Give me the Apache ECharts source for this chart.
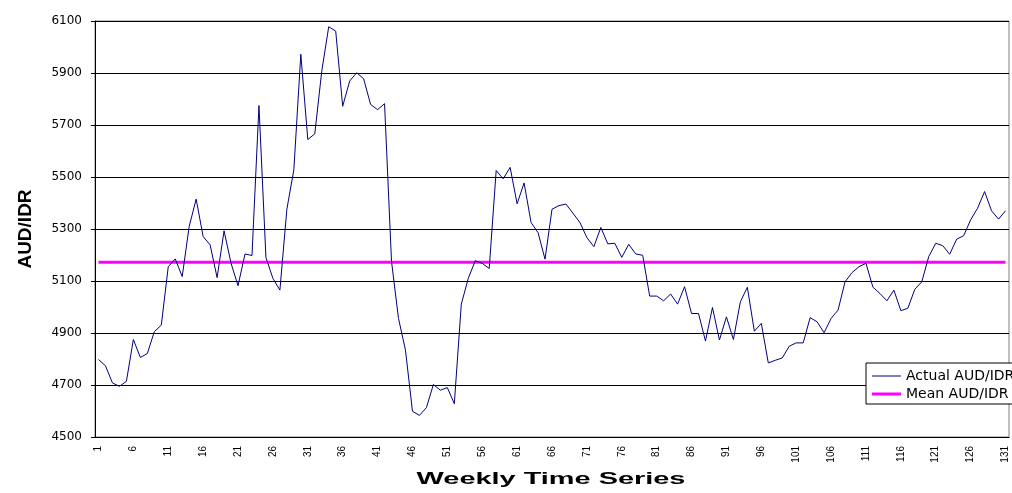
<!DOCTYPE html>
<html>
<head>
<meta charset="utf-8">
<script src="https://cdn.jsdelivr.net/npm/echarts@6/dist/echarts.min.js"></script>
<style>
  html, body { margin: 0; padding: 0; background: #fff; }
  #chart { width: 1012px; height: 493px; }
</style>
</head>
<body>
<div id="chart"></div>
<script>
// Weekly AUD/IDR exchange rate, weeks 1..131
const actualRate = [
  4798, 4774, 4708, 4695, 4714, 4875, 4806, 4821, 4905, 4930,
  5155, 5185, 5117, 5310, 5415, 5271, 5239, 5113, 5293, 5168,
  5082, 5204, 5198, 5775, 5190, 5110, 5065, 5376, 5528, 5972,
  5644, 5666, 5907, 6078, 6061, 5772, 5869, 5901, 5878, 5779,
  5759, 5782, 5175, 4956, 4834, 4599, 4583, 4613, 4702, 4680,
  4690, 4628, 5011, 5110, 5178, 5168, 5148, 5525, 5493, 5537,
  5397, 5477, 5325, 5286, 5184, 5376, 5390, 5396, 5361, 5325,
  5267, 5232, 5306, 5243, 5245, 5191, 5241, 5204, 5199, 5042,
  5042, 5024, 5050, 5011, 5078, 4975, 4975, 4869, 4998, 4873,
  4962, 4875, 5020, 5076, 4907, 4937, 4785, 4795, 4804, 4849,
  4862, 4862, 4959, 4943, 4901, 4956, 4988, 5097, 5132, 5155,
  5168, 5076, 5052, 5024, 5065, 4986, 4995, 5068, 5097, 5194,
  5245, 5236, 5203, 5261, 5274, 5335, 5380, 5444, 5370, 5338,
  5370
];

// Mean of the whole series
const meanRate = 5172;

// Week numbers used as category labels
const weeks = actualRate.map((_, i) => String(i + 1));

// Value axis range and step
const yMin = 4500;
const yMax = 6100;
const yStep = 200;

const chart = echarts.init(document.getElementById('chart'), null, { renderer: 'canvas' });

chart.setOption({
  animation: false,
  backgroundColor: '#ffffff',
  grid: {
    left: 95, right: 3, top: 21, bottom: 56,
    show: true, borderColor: '#808080', borderWidth: 1,
    containLabel: false
  },
  legend: {
    orient: 'vertical',
    left: 866, top: 363,
    backgroundColor: '#ffffff',
    borderColor: '#000000', borderWidth: 1, borderRadius: 0,
    padding: [6, 40, 3, 6],
    itemWidth: 29, itemHeight: 14, itemGap: 4,
    symbolKeepAspect: true,
    textStyle: { fontFamily: 'DejaVu Sans', fontSize: 14, color: '#000' },
    data: [
      // flat strokes as legend keys: thin for the rate, thick for the mean
      { name: 'Actual AUD/IDR', icon: 'path://M0,0H29V1H0Z' },
      { name: 'Mean AUD/IDR', icon: 'path://M0,0H29V3H0Z' }
    ]
  },
  xAxis: {
    type: 'category',
    data: weeks,
    boundaryGap: true,
    axisLine: { lineStyle: { color: '#000', width: 1 } },
    axisTick: { interval: 0, length: 4, lineStyle: { color: '#000' } },
    axisLabel: {
      interval: 4, rotate: 90, margin: 9,
      fontFamily: 'Liberation Sans', fontSize: 10, color: '#000'
    },
    splitLine: { show: false }
  },
  yAxis: {
    type: 'value',
    min: yMin, max: yMax, interval: yStep,
    name: 'AUD/IDR',
    nameLocation: 'middle',
    nameRotate: 90,
    nameGap: 60,
    nameTextStyle: { fontFamily: 'Liberation Sans', fontWeight: 'bold', fontSize: 19, color: '#000' },
    axisLine: { show: true, lineStyle: { color: '#000', width: 1 } },
    axisTick: { show: true, length: 4, lineStyle: { color: '#000' } },
    axisLabel: {
      margin: 13, fontFamily: 'DejaVu Sans', fontSize: 12, color: '#000',
      formatter: (v) => String(v)
    },
    splitLine: { show: true, lineStyle: { color: '#000', width: 1 } }
  },
  graphic: [{
    type: 'text',
    x: 551, y: 479.5,
    scaleX: 1.7,
    style: {
      text: 'Weekly Time Series',
      font: 'bold 17px "Liberation Sans"',
      fill: '#000',
      textAlign: 'center',
      textVerticalAlign: 'middle'
    }
  }],
  series: [
    {
      name: 'Actual AUD/IDR',
      type: 'line',
      data: actualRate,
      symbol: 'none',
      lineStyle: { color: '#000080', width: 1 },
      itemStyle: { color: '#000080' },
      z: 3
    },
    {
      name: 'Mean AUD/IDR',
      type: 'line',
      data: [[weeks[0], meanRate], [weeks[weeks.length - 1], meanRate]],
      symbol: 'none',
      lineStyle: { color: '#ff00ff', width: 3 },
      itemStyle: { color: '#ff00ff' },
      z: 2
    }
  ]
});
</script>
</body>
</html>
